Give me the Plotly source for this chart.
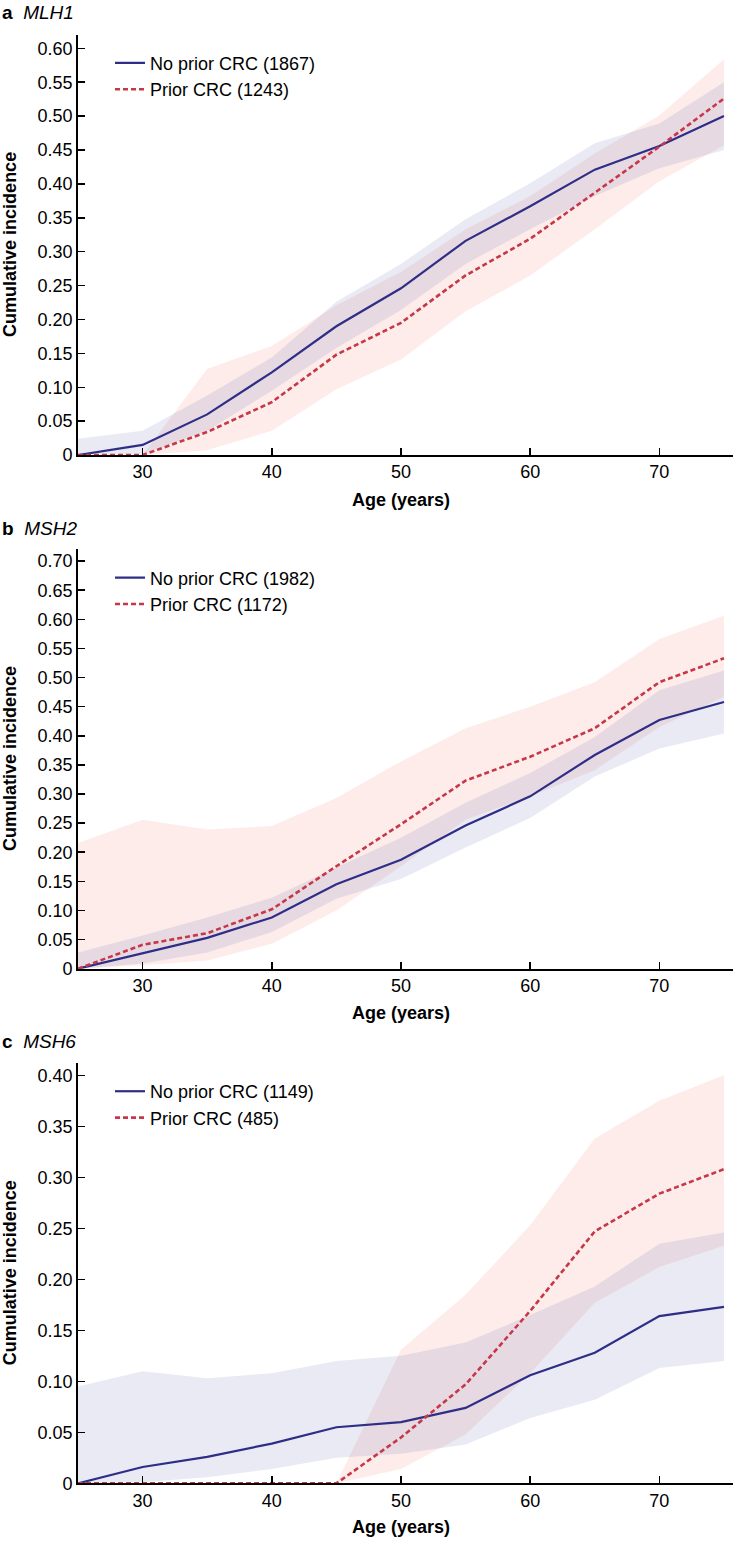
import plotly.graph_objects as go

W, H = 733, 1548

ages = [25, 30, 35, 40, 45, 50, 55, 60, 65, 70, 75]
x_ticks = [30, 40, 50, 60, 70]
x_tick_labels = ["30", "40", "50", "60", "70"]

# ---- a: MLH1 ----
mlh1_no = [0.0, 0.015, 0.060, 0.122, 0.190, 0.246, 0.316, 0.367, 0.421, 0.456, 0.500]
mlh1_no_hi = [0.024, 0.036, 0.088, 0.144, 0.226, 0.282, 0.348, 0.401, 0.460, 0.489, 0.550]
mlh1_no_lo = [0.0, 0.001, 0.036, 0.095, 0.158, 0.214, 0.282, 0.333, 0.382, 0.423, 0.450]
mlh1_pr = [0.0, 0.0, 0.034, 0.078, 0.148, 0.195, 0.265, 0.319, 0.387, 0.455, 0.526]
mlh1_pr_hi = [0.0, 0.0, 0.127, 0.161, 0.221, 0.270, 0.333, 0.382, 0.445, 0.501, 0.584]
mlh1_pr_lo = [0.0, 0.0, 0.007, 0.036, 0.097, 0.141, 0.212, 0.265, 0.333, 0.404, 0.457]

# ---- b: MSH2 ----
msh2_no = [0.0, 0.026, 0.053, 0.088, 0.145, 0.187, 0.246, 0.296, 0.367, 0.427, 0.458]
msh2_no_hi = [0.028, 0.057, 0.088, 0.122, 0.174, 0.225, 0.285, 0.336, 0.398, 0.478, 0.512]
msh2_no_lo = [0.0, 0.009, 0.028, 0.063, 0.120, 0.154, 0.208, 0.259, 0.330, 0.378, 0.404]
msh2_pr = [0.0, 0.041, 0.061, 0.102, 0.176, 0.248, 0.323, 0.364, 0.413, 0.492, 0.533]
msh2_pr_hi = [0.216, 0.256, 0.239, 0.245, 0.293, 0.356, 0.413, 0.450, 0.492, 0.566, 0.606]
msh2_pr_lo = [0.0, 0.006, 0.014, 0.043, 0.100, 0.176, 0.256, 0.296, 0.341, 0.415, 0.467]

# ---- c: MSH6 ----
msh6_no = [0.0, 0.016, 0.026, 0.039, 0.055, 0.060, 0.074, 0.106, 0.128, 0.164, 0.173]
msh6_no_hi = [0.095, 0.110, 0.103, 0.108, 0.120, 0.125, 0.138, 0.165, 0.193, 0.235, 0.246]
msh6_no_lo = [0.0, 0.001, 0.006, 0.014, 0.025, 0.029, 0.038, 0.064, 0.082, 0.113, 0.120]
msh6_pr = [0.0, 0.0, 0.0, 0.0, 0.0, 0.045, 0.097, 0.169, 0.247, 0.284, 0.308]
msh6_pr_hi = [0.0, 0.0, 0.0, 0.0, 0.0, 0.131, 0.185, 0.253, 0.338, 0.375, 0.400]
msh6_pr_lo = [0.0, 0.0, 0.0, 0.0, 0.0, 0.014, 0.048, 0.108, 0.177, 0.212, 0.233]

panels = [
    dict(letter="a", gene="MLH1", n_no=1867, n_pr=1243,
         no=mlh1_no, no_hi=mlh1_no_hi, no_lo=mlh1_no_lo,
         pr=mlh1_pr, pr_hi=mlh1_pr_hi, pr_lo=mlh1_pr_lo,
         ymax=0.62, yticks=[0, 0.05, 0.10, 0.15, 0.20, 0.25, 0.30, 0.35, 0.40, 0.45, 0.50, 0.55, 0.60],
         top=35, bottom=458, label_y=13, xtitle_y=503),
    dict(letter="b", gene="MSH2", n_no=1982, n_pr=1172,
         no=msh2_no, no_hi=msh2_no_hi, no_lo=msh2_no_lo,
         pr=msh2_pr, pr_hi=msh2_pr_hi, pr_lo=msh2_pr_lo,
         ymax=0.72, yticks=[0, 0.05, 0.10, 0.15, 0.20, 0.25, 0.30, 0.35, 0.40, 0.45, 0.50, 0.55, 0.60, 0.65, 0.70],
         top=553, bottom=975, label_y=532, xtitle_y=1020),
    dict(letter="c", gene="MSH6", n_no=1149, n_pr=485,
         no=msh6_no, no_hi=msh6_no_hi, no_lo=msh6_no_lo,
         pr=msh6_pr, pr_hi=msh6_pr_hi, pr_lo=msh6_pr_lo,
         ymax=0.412, yticks=[0, 0.05, 0.10, 0.15, 0.20, 0.25, 0.30, 0.35, 0.40],
         top=1070, bottom=1493, label_y=1048, xtitle_y=1537),
]

BLUE = "rgb(46,46,135)"
RED = "rgb(198,55,72)"
BLUE_FILL = "rgba(108,115,182,0.15)"
RED_FILL = "rgba(242,128,115,0.15)"
FONT = "Liberation Sans, Arial, Helvetica, sans-serif"


def fx(p):
    return p / W


def fy(p):
    return 1 - p / H


def fmt(v):
    return "0" if v == 0 else f"{v:.2f}"


fig = go.Figure()
annotations = []
layout = dict(
    width=W, height=H,
    margin=dict(l=0, r=0, t=0, b=0),
    paper_bgcolor="white", plot_bgcolor="white",
    font=dict(family=FONT, size=18, color="black"),
    hovermode=False,
)

for i, p in enumerate(panels, start=1):
    sfx = "" if i == 1 else str(i)
    xa, ya = "x" + sfx, "y" + sfx
    leg = "legend" + sfx
    band_x = ages + ages[::-1]
    fig.add_trace(go.Scatter(x=band_x, y=p["pr_hi"] + p["pr_lo"][::-1], fill="toself",
                             fillcolor=RED_FILL, line=dict(width=0), mode="lines",
                             showlegend=False, xaxis=xa, yaxis=ya))
    fig.add_trace(go.Scatter(x=band_x, y=p["no_hi"] + p["no_lo"][::-1], fill="toself",
                             fillcolor=BLUE_FILL, line=dict(width=0), mode="lines",
                             showlegend=False, xaxis=xa, yaxis=ya))
    fig.add_trace(go.Scatter(x=ages, y=p["no"], mode="lines",
                             line=dict(color=BLUE, width=2.2),
                             name=f"No prior CRC ({p['n_no']})", legend=leg,
                             xaxis=xa, yaxis=ya))
    fig.add_trace(go.Scatter(x=ages, y=p["pr"], mode="lines",
                             line=dict(color=RED, width=2.6, dash="5px,3px"),
                             name=f"Prior CRC ({p['n_pr']})", legend=leg,
                             xaxis=xa, yaxis=ya))

    layout["xaxis" + sfx] = dict(
        domain=[fx(78), 1], range=[25, 75.7], anchor=ya,
        tickvals=x_ticks, ticktext=x_tick_labels,
        ticks="inside", ticklen=7, tickwidth=1.5, tickcolor="black",
        showline=True, linecolor="black", linewidth=1.8,
        showgrid=False, zeroline=False, fixedrange=True,
        tickfont=dict(size=18, family=FONT),
    )
    layout["yaxis" + sfx] = dict(
        domain=[fy(p["bottom"]), fy(p["top"])], range=[0, p["ymax"]], anchor=xa,
        tickvals=p["yticks"], ticktext=[fmt(v) for v in p["yticks"]],
        ticks="inside", ticklen=7, tickwidth=1.5, tickcolor="black",
        showline=True, linecolor="black", linewidth=1.8,
        showgrid=False, zeroline=False, fixedrange=True,
        tickfont=dict(size=18, family=FONT),
    )
    layout[leg] = dict(
        x=fx(110), y=fy(p["top"] + 10), xanchor="left", yanchor="top",
        bgcolor="rgba(0,0,0,0)", borderwidth=0,
        font=dict(size=18, family=FONT, color="black"),
        itemwidth=30, tracegroupgap=0,
    )
    annotations.append(dict(
        x=fx(0), y=fy(p["label_y"]), xref="paper", yref="paper",
        xanchor="left", yanchor="middle", showarrow=False,
        text=f"<b>{p['letter']}</b>  <i>{p['gene']}</i>",
        font=dict(size=19, family=FONT, color="black"),
    ))
    annotations.append(dict(
        x=fx(10), y=fy((p["top"] + p["bottom"]) / 2), xref="paper", yref="paper",
        xanchor="center", yanchor="middle", showarrow=False, textangle=-90,
        text="<b>Cumulative incidence</b>",
        font=dict(size=18, family=FONT, color="black"),
    ))
    annotations.append(dict(
        x=fx(401), y=fy(p["xtitle_y"]), xref="paper", yref="paper",
        xanchor="center", yanchor="middle", showarrow=False,
        text="<b>Age (years)</b>",
        font=dict(size=18, family=FONT, color="black"),
    ))

layout["annotations"] = annotations
fig.update_layout(**layout)
fig.write_html("out.html",
               config={"displayModeBar": False, "staticPlot": True},
               post_script="document.body.style.margin='0';document.body.style.padding='0';")
